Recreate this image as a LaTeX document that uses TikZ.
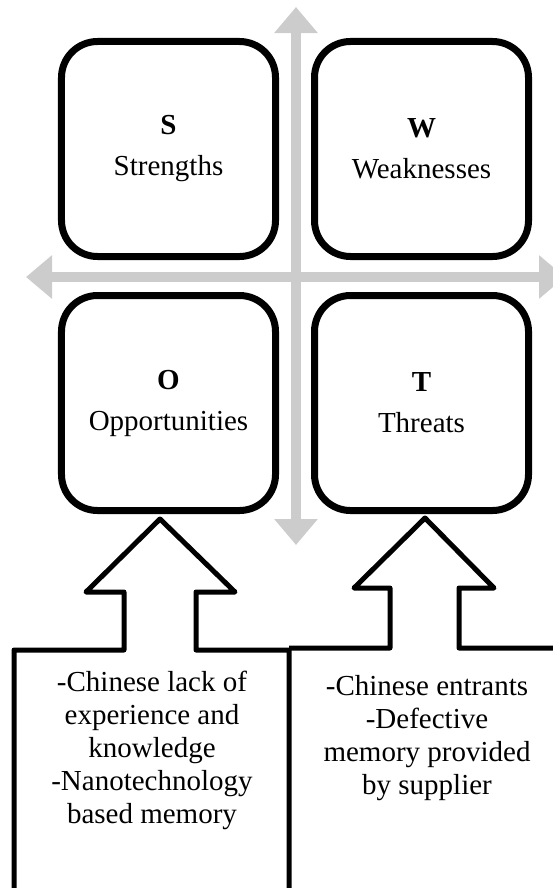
\documentclass[tikz,border=0pt]{standalone}
\usepackage{fontspec}
\setmainfont{Liberation Serif}
\usepackage{tikz}
\usetikzlibrary{positioning,arrows.meta,shadows}

\begin{document}
\begin{tikzpicture}[x=1bp, y=-1bp, >={Triangle[length=26bp,width=42bp]}, node distance=32bp, font=\fontsize{29bp}{33bp}\selectfont]
		\tikzstyle{quad}=[draw=black, line width=7bp, rounded corners=36bp, fill=white, minimum width=214bp, minimum height=215bp, inner sep=0pt, align=center, drop shadow={opacity=0.2, shadow xshift=1.5bp, shadow yshift=-2bp}]
		\tikzstyle{axis}=[<->, draw=gray!40, fill=gray!40, line width=10bp]
		\tikzstyle{callout}=[draw=black, line width=5bp, line join=round]

		\useasboundingbox (0,0) rectangle (553,888);

		% gray axes
		\coordinate (up) at (296,7); \coordinate (down) at (296,545);
		\coordinate (left) at (26,277); \coordinate (right) at (565,277);
		\draw[axis] (up) -- (down); \draw[axis] (left) -- (right);

		\begin{scope}
			\node[quad] (S) at (168.5,149) {\textbf{S}\\[8bp]Strengths};
			\node[quad] (W) [right=of S] {\textbf{W}\\[8bp]Weaknesses};
			\node[quad] (O) [below=of S] {\textbf{O}\\[8bp]Opportunities};
			\node[quad] (T) [right=of O] {\textbf{T}\\[8bp]Threats};
		\end{scope}

		% block arrows with their lists
		\draw[callout] (14,900) -- (14,650) -- (124,650) -- (124,592) --
			(86,592) -- (160,519) -- (235,592) -- (196,592) -- (196,650) --
			(289,650) -- (289,900);
		\draw[callout] (289,648) -- (390,648) -- (390,588) -- (354,588) --
			(425,518) -- (494,588) -- (459,588) -- (459,648) -- (570,648);

		\node[align=center] (oppList) at (152,750) {-Chinese lack of\\experience and\\knowledge\\-Nanotechnology\\based memory};
		\node[align=center] (thrList) at (427,738) {-Chinese entrants\\-Defective\\memory provided\\by supplier};
	\end{tikzpicture}
\end{document}
